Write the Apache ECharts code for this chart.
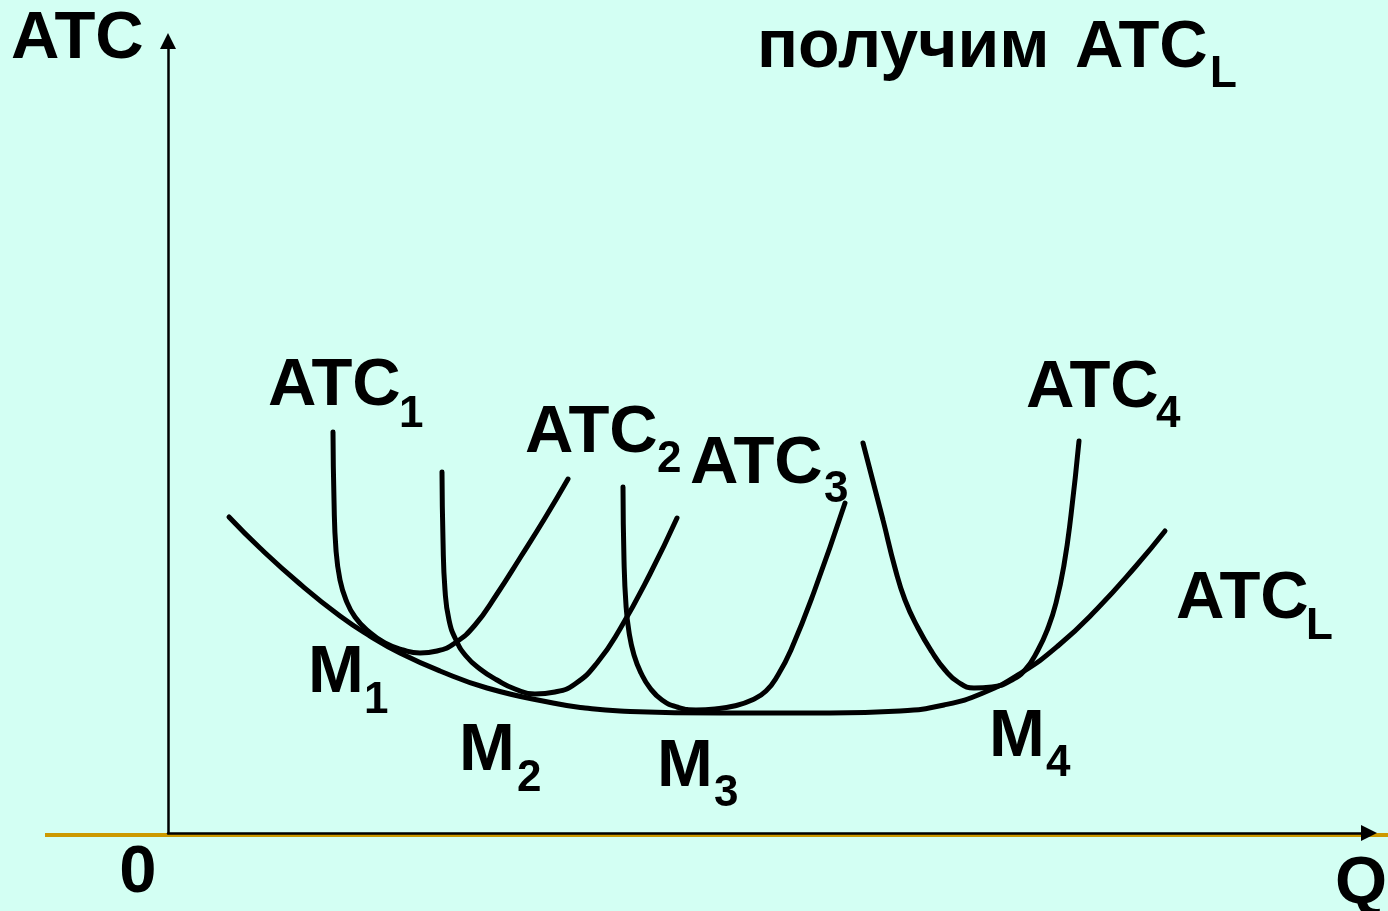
<!DOCTYPE html>
<html>
<head>
<meta charset="utf-8">
<script src="https://cdn.jsdelivr.net/npm/echarts@6/dist/echarts.min.js"></script>
<style>
  html, body { margin: 0; padding: 0; background: #d3fff3; }
  #main { width: 1388px; height: 911px; }
</style>
</head>
<body>
<div id="main"></div>
<script>
// точки кривых (Q, ATC)
const atc1 = [[165,401],[166,333],[168,283],[172,253],[178,233],[187,216],[200,202],[217,190],[235,183],[252,180],[269,182],[287,190],[307,208],[329,239],[352,275],[377,315],[400,354]];
const atc2 = [[274,361],[275,293],[277,243],[281,213],[288,193],[298,177],[312,164],[329,153],[347,144],[367,139],[387,141],[407,149],[429,170],[452,204],[482,259],[509,315]];
const atc3 = [[455,346],[456,273],[458,228],[461,201],[466,178],[473,160],[482,145],[494,133],[509,126],[528,123],[547,124],[566,127],[584,133],[598,142],[610,158],[623,183],[646,241],[677,330]];
const atc4 = [[695,390],[715,313],[727,265],[737,233],[750,205],[764,181],[777,163],[790,151],[806,145],[824,146],[842,152],[857,163],[870,183],[880,205],[888,230],[896,268],[903,318],[911,392]];
const atcL = [[61,316],[92,285],[132,249],[172,217],[202,197],[232,180],[272,162],[319,145],[385,130],[417,125],[452,122],[552,120],[662,120],[732,122],[776,128],[815,140],[853,160],[891,188],[929,224],[968,267],[997,302]];

const curves = [atc1, atc2, atc3, atc4, atcL];

const FONT = 'Liberation Sans, Arial, sans-serif';
const BIG = 67, SMALL = 44;

// текст по базовой линии
function lab(x, base, text, size, align) {
  return {
    type: 'text',
    z: 10,
    style: {
      x: x,
      y: base - size * 0.35,
      text: text,
      fill: '#000',
      font: 'bold ' + size + 'px ' + FONT,
      align: align || 'left',
      verticalAlign: 'middle'
    }
  };
}

const labels = [
  lab(11, 63, 'ATC', BIG),
  lab(757, 72, 'получим', 68), lab(1075, 72, 'ATC', BIG), lab(1210, 90, 'L', SMALL),
  lab(268, 410, 'ATC', BIG), lab(399, 430, '1', SMALL),
  lab(525, 457, 'ATC', BIG), lab(657, 475, '2', SMALL),
  lab(690, 488, 'ATC', BIG), lab(824, 505, '3', SMALL),
  lab(1026, 412, 'ATC', BIG), lab(1156, 430, '4', SMALL),
  lab(1176, 623, 'ATC', BIG), lab(1306, 642, 'L', SMALL),
  lab(308, 697, 'M', BIG), lab(364, 716, '1', SMALL),
  lab(459, 775, 'M', BIG), lab(517, 794, '2', SMALL),
  lab(657, 791, 'M', BIG), lab(714, 809, '3', SMALL),
  lab(989, 761, 'M', BIG), lab(1046, 779, '4', SMALL),
  lab(138, 897, '0', BIG, 'center'),
  lab(1335, 908, 'Q', BIG)
];

const chart = echarts.init(document.getElementById('main'));

chart.setOption({
  backgroundColor: '#d3fff3',
  animation: false,
  grid: { left: 168, right: 19, top: 41, bottom: 78 },
  xAxis: {
    type: 'value', min: 0, max: 1201,
    axisLine: { onZero: false, symbol: ['none', 'triangle'], symbolSize: [16, 16], lineStyle: { color: '#000', width: 2.5 } },
    axisTick: { show: false }, axisLabel: { show: false }, splitLine: { show: false }
  },
  yAxis: {
    type: 'value', min: 0, max: 792,
    axisLine: { show: true, onZero: false, symbol: ['none', 'triangle'], symbolSize: [16, 16], lineStyle: { color: '#000', width: 2.5 } },
    axisTick: { show: false }, axisLabel: { show: false }, splitLine: { show: false }
  },
  series: curves.map(d => ({
    type: 'line',
    data: d,
    smooth: 0.5,
    symbol: 'none',
    lineStyle: { color: '#000', width: 5, cap: 'round' }
  })),
  graphic: [
    {
      type: 'line',
      z: -1,
      shape: { x1: 45, y1: 835, x2: 1388, y2: 835 },
      style: { stroke: '#cc9900', lineWidth: 4 }
    }
  ].concat(labels)
});
</script>
</body>
</html>
